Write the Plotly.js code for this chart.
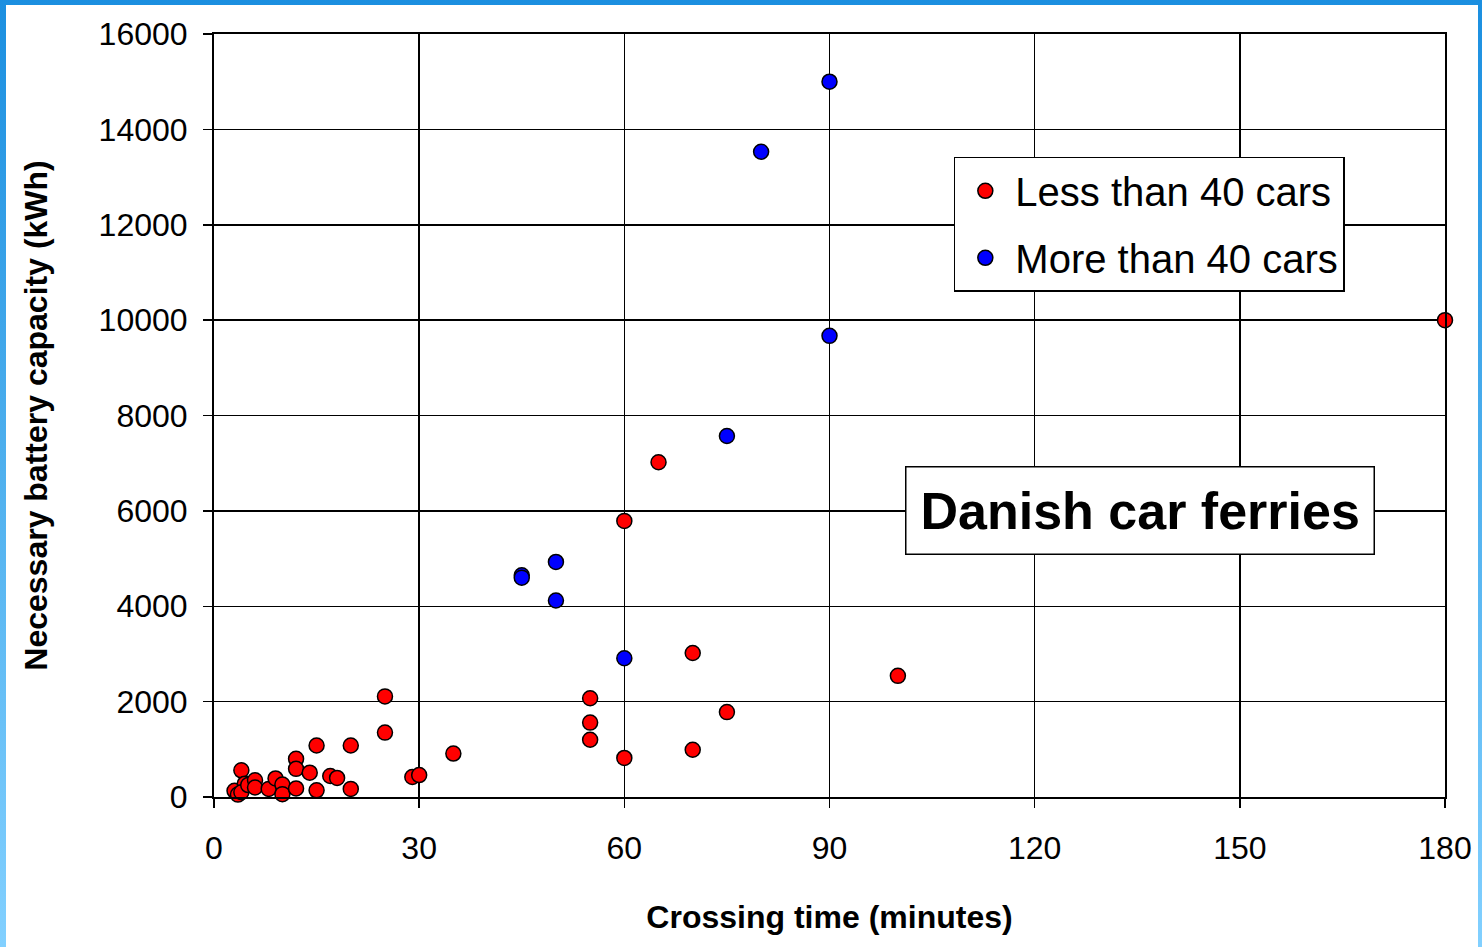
<!DOCTYPE html>
<html>
<head>
<meta charset="utf-8">
<script src="https://cdn.plot.ly/plotly-3.0.1.min.js"></script>
<style>
  html, body { margin: 0; padding: 0; }
  body {
    width: 1482px; height: 947px; overflow: hidden;
    background: linear-gradient(to bottom, #1b8fe0 0%, #4fb0ee 50%, #82d0ff 100%);
    position: relative;
  }
  #chart {
    position: absolute; left: 6px; top: 5px;
    width: 1472px; height: 942px; background: #ffffff;
  }
</style>
</head>
<body>
<div id="chart"></div>
<script>
// Crossing time (minutes) and necessary battery capacity (kWh)
const lessX = [3, 3.5, 4, 4.5, 4, 5, 6, 6, 8, 9, 10, 10, 12, 12, 12, 14, 15, 15, 17, 18, 20, 20, 25, 25, 29, 30, 35, 55, 55, 55, 60, 60, 65, 70, 70, 75, 100, 180];
const lessY = [130, 50, 560, 280, 100, 250, 350, 200, 170, 390, 260, 60, 800, 590, 180, 510, 1080, 140, 440, 400, 1080, 170, 2110, 1350, 420, 460, 910, 2070, 1560, 1200, 820, 5790, 7020, 3020, 990, 1780, 2540, 10000];

const moreX = [45, 45, 50, 50, 60, 75, 80, 90, 90];
const moreY = [4650, 4600, 4930, 4120, 2910, 7570, 13530, 15000, 9670];

const seriesNames = ["Less than 40 cars", "More than 40 cars"];
const xTicks = [0, 30, 60, 90, 120, 150, 180];
const yTicks = [0, 2000, 4000, 6000, 8000, 10000, 12000, 14000, 16000];
const boxLabel = "Danish car ferries";

const FONT = "Liberation Sans, Arial, sans-serif";

const markerBase = { size: 15, line: { color: "#000000", width: 1.5 } };

const traces = [
  {
    x: lessX, y: lessY, type: "scatter", mode: "markers", name: seriesNames[0],
    legendgroup: "a",
    marker: Object.assign({}, markerBase, { color: "#ff0000" }),
    cliponaxis: false
  },
  {
    x: moreX, y: moreY, type: "scatter", mode: "markers", name: seriesNames[1],
    legendgroup: "b",
    marker: Object.assign({}, markerBase, { color: "#0000ff" }),
    cliponaxis: false
  }
];

const axisCommon = {
  showgrid: true, gridcolor: "#000000", gridwidth: 1.5,
  showline: true, linecolor: "#000000", linewidth: 2, mirror: true,
  zeroline: false,
  ticks: "outside", ticklen: 9, tickwidth: 1.5, tickcolor: "#000000",
  tickfont: { family: FONT, size: 32, color: "#000000" }
};

const layout = {
  width: 1472, height: 942,
  paper_bgcolor: "#ffffff", plot_bgcolor: "#ffffff",
  margin: { l: 208, r: 33, t: 29, b: 150 },
  showlegend: true,
  xaxis: Object.assign({}, axisCommon, {
    range: [0, 180], tickvals: xTicks, ticktext: xTicks.map(String),
    ticklabelstandoff: 13,
    title: { text: "Crossing time (minutes)", standoff: 40,
             font: { family: FONT, size: 32, color: "#000000", weight: "bold" } }
  }),
  yaxis: Object.assign({}, axisCommon, {
    range: [0, 16000], tickvals: yTicks, ticktext: yTicks.map(String),
    ticklabelstandoff: 9,
    title: { text: "Necessary battery capacity (kWh)", standoff: 41,
             font: { family: FONT, size: 32, color: "#000000", weight: "bold" } }
  }),
  legend: {
    x: 0.601, y: 0.839, xanchor: "left", yanchor: "top",
    bgcolor: "#ffffff", bordercolor: "#000000", borderwidth: 1.5,
    font: { family: FONT, size: 40, color: "#000000" },
    traceorder: "grouped", tracegroupgap: 12,
    itemsizing: "trace", itemwidth: 50
  },
  annotations: [
    {
      xref: "paper", yref: "paper", x: 0.752, y: 0.376,
      xanchor: "center", yanchor: "middle", showarrow: false,
      text: boxLabel,
      font: { family: FONT, size: 52, color: "#000000", weight: "bold" },
      bgcolor: "#ffffff", bordercolor: "#000000", borderwidth: 1.5, borderpad: 14
    }
  ]
};

Plotly.newPlot("chart", traces, layout, { displayModeBar: false, staticPlot: true });
</script>
</body>
</html>
